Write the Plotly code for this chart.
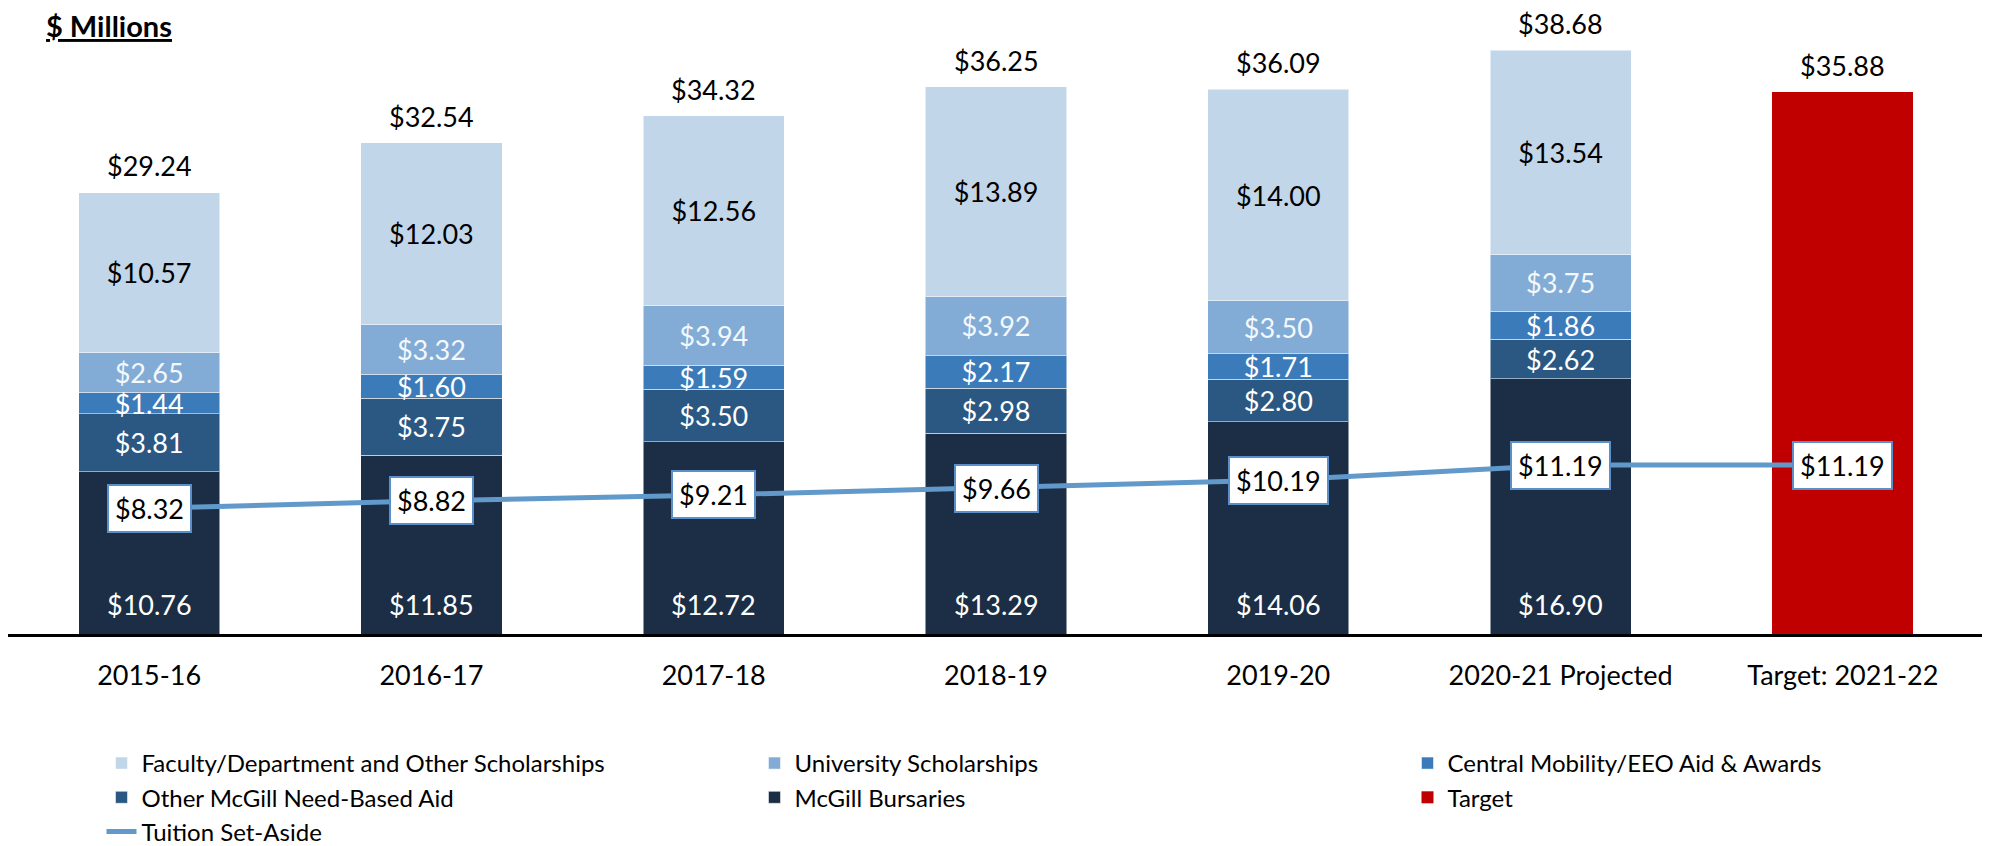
import plotly.graph_objects as go

categories = ["2015-16", "2016-17", "2017-18", "2018-19", "2019-20",
              "2020-21 Projected", "Target: 2021-22"]
years = categories[:6]
bursaries = [10.76, 11.85, 12.72, 13.29, 14.06, 16.90]
other_need = [3.81, 3.75, 3.50, 2.98, 2.80, 2.62]
central = [1.44, 1.60, 1.59, 2.17, 1.71, 1.86]
univ = [2.65, 3.32, 3.94, 3.92, 3.50, 3.75]
faculty = [10.57, 12.03, 12.56, 13.89, 14.00, 13.54]
totals = [29.24, 32.54, 34.32, 36.25, 36.09, 38.68]
target_cat = ["Target: 2021-22"]
target_val = [35.88]
tuition = [8.32, 8.82, 9.21, 9.66, 10.19, 11.19, 11.19]

FONT = "Lato"
FS = 27


def money(vals):
    return [f"${v:.2f}" for v in vals]


fig = go.Figure()

line_col = "rgba(255,255,255,0.5)"

fig.add_trace(go.Bar(
    x=years, y=bursaries, name="McGill Bursaries", legendrank=5,
    marker=dict(color="#1B2E45", line=dict(color=line_col, width=1)),
))
fig.add_trace(go.Bar(
    x=years, y=other_need, name="Other McGill Need-Based Aid", legendrank=4,
    marker=dict(color="#2B5882", line=dict(color=line_col, width=1)),
    text=money(other_need), textposition="inside", textangle=0,
    insidetextanchor="middle", textfont=dict(color="white", size=FS, family=FONT),
))
fig.add_trace(go.Bar(
    x=years, y=central, name="Central Mobility/EEO Aid & Awards", legendrank=3,
    marker=dict(color="#3C7BBA", line=dict(color=line_col, width=1)),
    text=money(central), textposition="inside", textangle=0,
    insidetextanchor="middle", textfont=dict(color="white", size=FS, family=FONT),
))
fig.add_trace(go.Bar(
    x=years, y=univ, name="University Scholarships", legendrank=2,
    marker=dict(color="#82ACD6", line=dict(color=line_col, width=1)),
    text=money(univ), textposition="inside", textangle=0,
    insidetextanchor="middle", textfont=dict(color="#F4F8FC", size=FS, family=FONT),
))
fig.add_trace(go.Bar(
    x=years, y=faculty, name="Faculty/Department and Other Scholarships", legendrank=1,
    marker=dict(color="#C2D6EA", line=dict(color=line_col, width=1)),
    text=money(faculty), textposition="inside", textangle=0,
    insidetextanchor="middle", textfont=dict(color="black", size=FS, family=FONT),
))
fig.add_trace(go.Bar(
    x=target_cat, y=target_val, name="Target", legendrank=6,
    marker=dict(color="#C00000", line=dict(width=0)),
))
fig.add_trace(go.Scatter(
    x=categories, y=tuition, name="Tuition Set-Aside", legendrank=7,
    mode="lines", line=dict(color="#6199CB", width=5),
))

annotations = []
# bursary labels near the base
for c, v in zip(years, bursaries):
    annotations.append(dict(x=c, y=0, text=f"${v:.2f}", showarrow=False,
                            yanchor="middle", yshift=30,
                            font=dict(color="white", size=FS, family=FONT)))
# totals above bars
for c, v in zip(years + target_cat, totals + target_val):
    annotations.append(dict(x=c, y=v, text=f"${v:.2f}", showarrow=False,
                            yanchor="middle", yshift=27, height=30,
                            borderpad=0,
                            font=dict(color="black", size=FS, family=FONT)))
# tuition set-aside boxed labels
for c, v in zip(categories, tuition):
    annotations.append(dict(x=c, y=v, text=f"${v:.2f}", showarrow=False,
                            yanchor="middle", xanchor="center",
                            bgcolor="white", bordercolor="#5B8FC9",
                            borderwidth=2, borderpad=6,
                            font=dict(color="black", size=FS, family=FONT)))
# title
annotations.append(dict(xref="paper", yref="paper", x=36 / 1976, y=1.008,
                        xanchor="left", yanchor="middle", showarrow=False,
                        text="<b><u>$ Millions</u></b>",
                        font=dict(color="black", size=29, family=FONT)))

fig.update_layout(
    width=1990, height=846,
    barmode="stack", bargap=0.5,
    plot_bgcolor="white", paper_bgcolor="white",
    margin=dict(l=0, r=14, t=22, b=220, autoexpand=False),
    font=dict(family=FONT, color="black"),
    uniformtext=dict(minsize=FS, mode="show"),
    annotations=annotations,
    legend=dict(orientation="h", xref="container", yref="container",
                x=93.5 / 1990, y=1 - 733 / 846, xanchor="left", yanchor="top",
                traceorder="normal", entrywidth=608,
                font=dict(size=24, family=FONT, color="black")),
    showlegend=True,
)
fig.update_xaxes(showline=True, linecolor="black", linewidth=3, ticks="",
                 tickfont=dict(size=FS, family=FONT, color="black"),
                 ticklabelstandoff=16, categoryorder="array",
                 categoryarray=categories)
fig.update_yaxes(visible=False, range=[0, 40])

fig.write_html("out.html")
